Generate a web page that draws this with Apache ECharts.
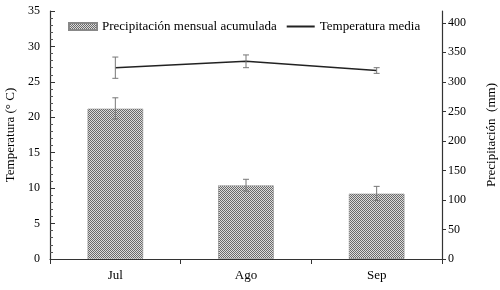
<!DOCTYPE html>
<html>
<head>
<meta charset="utf-8">
<script src="https://cdn.jsdelivr.net/npm/echarts@6/dist/echarts.min.js"></script>
<style>
  html, body { margin: 0; padding: 0; background: #fff; }
  #chart { width: 500px; height: 290px; }
</style>
</head>
<body>
<div id="chart"></div>
<script>
let months = ['Jul', 'Ago', 'Sep'];
let precip = [255, 125, 111];      // mm
let precipErr = [18, 10, 12];
let temp = [27.0, 27.9, 26.6];     // °C
let tempErr = [1.5, 0.9, 0.4];

// checkered fill for the bars
let makePattern = function () {
  let c = document.createElement('canvas');
  c.width = 2;
  c.height = 2;
  let ctx = c.getContext('2d');
  ctx.fillStyle = '#dcdcdc';
  ctx.fillRect(0, 0, 2, 2);
  ctx.fillStyle = '#6a6a6a';
  ctx.fillRect(0, 0, 1, 1);
  ctx.fillRect(1, 1, 1, 1);
  return c;
};
let pattern = { image: makePattern(), repeat: 'repeat' };

let errData = function (vals, errs) {
  return vals.map(function (v, i) {
    return [i, v - errs[i], v + errs[i]];
  });
};

let errorBar = function (params, api) {
  let x = api.value(0);
  let lo = api.coord([x, api.value(1)]);
  let hi = api.coord([x, api.value(2)]);
  let half = 3;
  let style = { stroke: '#777', lineWidth: 1 };
  return {
    type: 'group',
    children: [
      { type: 'line', shape: { x1: hi[0], y1: hi[1], x2: lo[0], y2: lo[1] }, style: style },
      { type: 'line', shape: { x1: hi[0] - half, y1: hi[1], x2: hi[0] + half, y2: hi[1] }, style: style },
      { type: 'line', shape: { x1: lo[0] - half, y1: lo[1], x2: lo[0] + half, y2: lo[1] }, style: style }
    ]
  };
};

let font = 'Liberation Serif';
let chart = echarts.init(document.getElementById('chart'));
chart.setOption({
  backgroundColor: '#fff',
  animation: false,
  textStyle: { fontFamily: font, color: '#000' },
  grid: { left: 50, right: 58, top: 11, bottom: 31, outerBoundsMode: 'none' },
  legend: {
    top: 15,
    left: 63,
    itemGap: 9,
    itemWidth: 28,
    itemHeight: 7,
    textStyle: { fontFamily: font, fontSize: 13, color: '#000' },
    data: [
      { name: 'Precipitación mensual acumulada', icon: 'rect' },
      { name: 'Temperatura media', itemStyle: { opacity: 0 } }
    ]
  },
  xAxis: {
    type: 'category',
    data: months,
    axisLine: { lineStyle: { color: '#333', width: 1.2 } },
    axisTick: { show: true, length: 5, lineStyle: { color: '#333' } },
    axisLabel: { color: '#000', fontSize: 13, fontFamily: font, margin: 10 }
  },
  yAxis: [
    {
      type: 'value',
      min: 0,
      max: 35,
      interval: 5,
      name: 'Temperatura (° C)',
      nameLocation: 'middle',
      nameGap: 30,
      nameTextStyle: { fontFamily: font, fontSize: 13, color: '#000' },
      axisLine: { show: true, lineStyle: { color: '#333', width: 1.2 } },
      axisTick: { show: true, inside: true, length: 5, lineStyle: { color: '#333' } },
      minorTick: { show: true, splitNumber: 5, length: 3, lineStyle: { color: '#555' } },
      splitLine: { show: false },
      axisLabel: { color: '#000', fontSize: 12, fontFamily: font, margin: 10 }
    },
    {
      type: 'value',
      min: 0,
      max: 420,
      interval: 50,
      position: 'right',
      name: 'Precipitación  (mm)',
      nameLocation: 'middle',
      nameGap: 43,
      nameRotate: 90,
      nameTextStyle: { fontFamily: font, fontSize: 13, color: '#000' },
      axisLine: { show: true, lineStyle: { color: '#333', width: 1.2 } },
      axisTick: { show: true, length: 4, lineStyle: { color: '#333' } },
      splitLine: { show: false },
      axisLabel: { color: '#000', fontSize: 12, fontFamily: font, margin: 6, showMaxLabel: false }
    }
  ],
  series: [
    {
      name: 'Precipitación mensual acumulada',
      type: 'bar',
      yAxisIndex: 1,
      barWidth: 56,
      data: precip,
      itemStyle: {
        color: pattern,
        borderColor: '#888',
        borderWidth: 1,
        borderType: 'dotted'
      }
    },
    {
      name: 'precipErr',
      type: 'custom',
      yAxisIndex: 1,
      renderItem: errorBar,
      data: errData(precip, precipErr),
      z: 5
    },
    {
      name: 'Temperatura media',
      type: 'line',
      yAxisIndex: 0,
      data: temp,
      symbol: 'none',
      color: '#222',
      lineStyle: { color: '#222', width: 1.5 },
      z: 4
    },
    {
      name: 'tempErr',
      type: 'custom',
      yAxisIndex: 0,
      renderItem: errorBar,
      data: errData(temp, tempErr),
      z: 5
    }
  ]
});
</script>
</body>
</html>
